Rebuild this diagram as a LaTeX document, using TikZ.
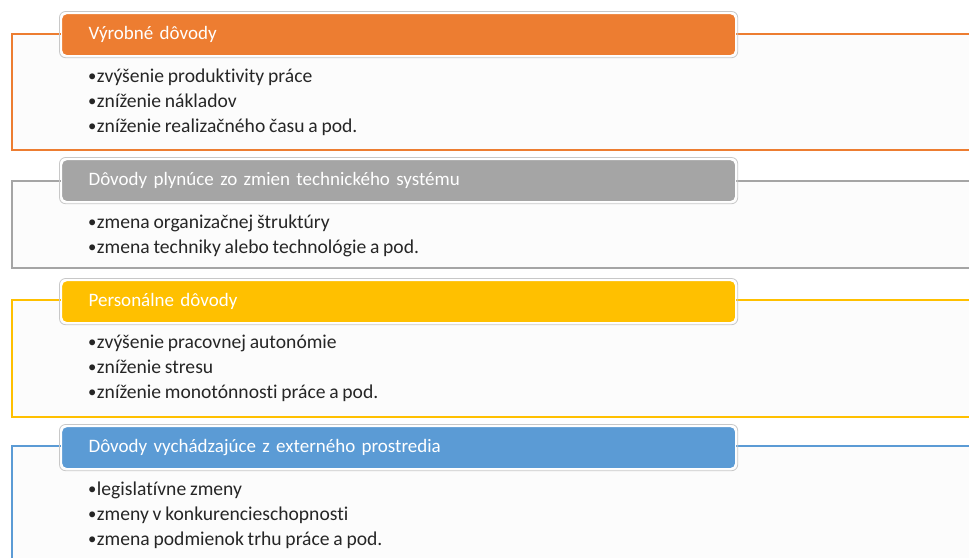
\documentclass[tikz,border=0pt]{standalone}
\usepackage{fontspec}
\setmainfont[Ligatures=NoCommon,WordSpace=0.85]{Carlito}
\definecolor{accOrange}{HTML}{ED7D31}
\definecolor{accGray}{HTML}{A5A5A5}
\definecolor{accGold}{HTML}{FFC000}
\definecolor{accBlue}{HTML}{5B9BD5}
\definecolor{bodyText}{HTML}{262626}
\definecolor{rimGray}{HTML}{C8C8C8}
\tikzset{
  panel/.style={line width=2.4pt, fill=white!99!black},
  header/.style={rounded corners=5pt, minimum width=674pt, minimum height=42pt,
    anchor=north west, inner xsep=27pt, text width=620pt, align=left,
    text=white, draw=white, line width=1.2pt,
    font=\fontsize{19}{21}\selectfont},
  rim/.style={draw=rimGray, line width=0.8pt, rounded corners=6pt},
  item/.style={anchor=base west, inner sep=0pt, text=bodyText,
    font=\fontsize{19.6}{22}\selectfont},
}
\newcommand{\bul}{\raisebox{0.5pt}{\scalebox{0.85}{•}}\hspace{0.5pt}}
\begin{document}
\begin{tikzpicture}[x=1pt,y=-1pt]
  \useasboundingbox (0,0) rectangle (969,557);
  \clip (0,0) rectangle (969,557);
  \fill[white] (0,0) rectangle (969,557);

  % panel frames (open past the right edge)
  \draw[panel, draw=accOrange] (12,34) rectangle (985,150);
  \draw[panel, draw=accGray]   (12,181) rectangle (985,268);
  \draw[panel, draw=accGold]   (12,300) rectangle (985,417);
  \draw[panel, draw=accBlue]   (12,446) rectangle (985,575);

  % header tabs
  \node[header, fill=accOrange] (h1) at (61,13)  {Výrobné dôvody};
  \node[header, fill=accGray]   (h2) at (61,159) {Dôvody plynúce zo zmien technického systému};
  \node[header, fill=accGold]   (h3) at (61,280) {Personálne dôvody};
  \node[header, fill=accBlue]   (h4) at (61,426) {Dôvody vychádzajúce z externého prostredia};
  \foreach \h in {h1,h2,h3,h4}
    \draw[rim] ([shift={(-1.5,-1.5)}]\h.north west) rectangle ([shift={(1.5,1.5)}]\h.south east);

  % bullet items
  \node[item] (a1) at (88,82)  {\bul zvýšenie produktivity práce};
  \node[item] (a2) at (88,107) {\bul zníženie nákladov};
  \node[item] (a3) at (88,132) {\bul zníženie realizačného času a pod.};

  \node[item] (b1) at (88,228) {\bul zmena organizačnej štruktúry};
  \node[item] (b2) at (88,253) {\bul zmena techniky alebo technológie a pod.};

  \node[item] (c1) at (88,348) {\bul zvýšenie pracovnej autonómie};
  \node[item] (c2) at (88,373) {\bul zníženie stresu};
  \node[item] (c3) at (88,398) {\bul zníženie monotónnosti práce a pod.};

  \node[item] (d1) at (88,495) {\bul legislatívne zmeny};
  \node[item] (d2) at (88,520) {\bul zmeny v konkurencieschopnosti};
  \node[item] (d3) at (88,545) {\bul zmena podmienok trhu práce a pod.};
\end{tikzpicture}
\end{document}
